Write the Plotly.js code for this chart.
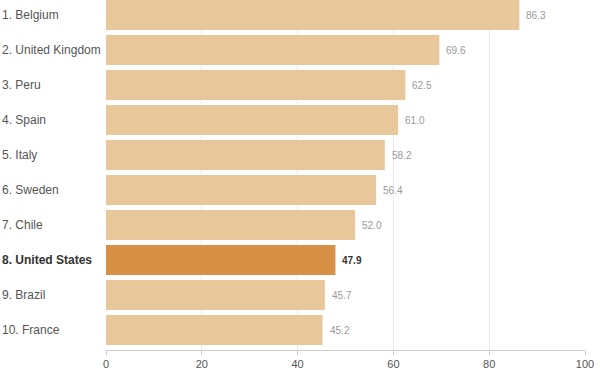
<!DOCTYPE html>
<html>
<head>
<meta charset="utf-8">
<script src="https://cdn.plot.ly/plotly-3.0.1.min.js"></script>
<style>html,body{margin:0;padding:0;background:#fff;}#chart{width:600px;height:375px;}</style>
</head>
<body>
<div id="chart"></div>
<script>
const countries = ["1. Belgium","2. United Kingdom","3. Peru","4. Spain","5. Italy","6. Sweden","7. Chile","8. United States","9. Brazil","10. France"];
const values = [86.3, 69.6, 62.5, 61.0, 58.2, 56.4, 52.0, 47.9, 45.7, 45.2];
const highlight = "8. United States";
const xTicks = [0, 20, 40, 60, 80, 100];

const lightColor = "#e8c89b";
const darkColor = "#d89144";
const barColors = countries.map(c => c === highlight ? darkColor : lightColor);

const trace = {
  type: "bar",
  orientation: "h",
  x: values,
  y: countries,
  marker: {color: barColors},
  hoverinfo: "none"
};

const annotations = [];
countries.forEach((c, i) => {
  const hi = c === highlight;
  annotations.push({
    x: values[i], y: c, xref: "x", yref: "y",
    text: hi ? "<b>" + values[i].toFixed(1) + "</b>" : values[i].toFixed(1),
    showarrow: false, xanchor: "left", yanchor: "middle", xshift: 5,
    font: {family: "Liberation Sans, Arial, sans-serif", size: 10, color: hi ? "#333" : "#999"}
  });
  annotations.push({
    x: -106/479, y: c, xref: "paper", yref: "y",
    text: hi ? "<b>" + c + "</b>" : c,
    showarrow: false, xanchor: "left", yanchor: "middle",
    font: {family: "Liberation Sans, Arial, sans-serif", size: 12, color: hi ? "#333" : "#555"}
  });
});

const layout = {
  width: 600, height: 375,
  margin: {l: 106, r: 15, t: 0, b: 25},
  paper_bgcolor: "#fff", plot_bgcolor: "#fff",
  bargap: 0.143,
  showlegend: false,
  xaxis: {
    range: [0, 100], tickvals: xTicks, ticktext: xTicks.map(String),
    showgrid: true, gridcolor: "#ebebeb", gridwidth: 1,
    zeroline: false,
    showline: true, linecolor: "#ccc", linewidth: 1,
    ticks: "outside", ticklen: 4, tickcolor: "#ccc",
    tickfont: {family: "Liberation Sans, Arial, sans-serif", size: 11, color: "#555"},
    fixedrange: true
  },
  yaxis: {
    range: [9.5714, -0.4286],
    showticklabels: false, showgrid: false, zeroline: false, showline: false, ticks: "",
    fixedrange: true
  },
  annotations: annotations
};

Plotly.newPlot("chart", [trace], layout, {staticPlot: true, displayModeBar: false});
</script>
</body>
</html>
